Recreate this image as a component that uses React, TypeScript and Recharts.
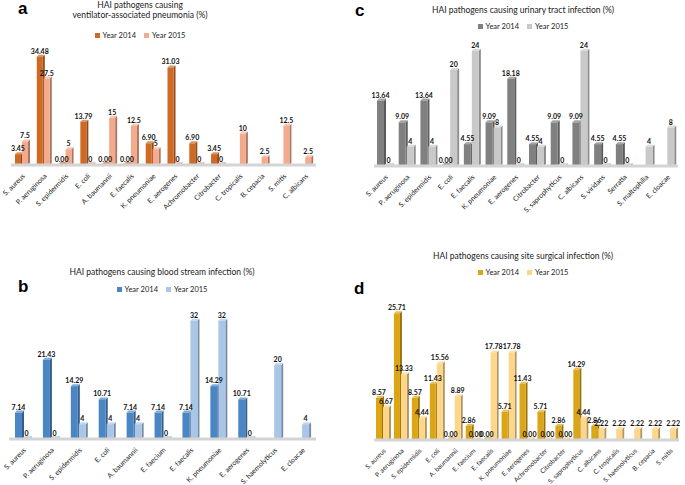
import { BarChart, Bar, XAxis, YAxis, LabelList } from 'recharts';

// a: ventilator-associated pneumonia
const vapNames = [
  'S. aureus', 'P. aeruginosa', 'S. epidermidis', 'E. coli', 'A. baumannii', 'E. faecalis',
  'K. pneumoniae', 'E. aerogenes', 'Achromobacter', 'Citrobacter', 'C. tropicalis',
  'B. cepacia', 'S. mitis', 'C. albicans',
];
const vap2014 = [3.45, 34.48, 0, 13.79, 0, 0, 6.9, 31.03, 6.9, 3.45, null, null, null, null];
const vap2015 = [7.5, 27.5, 5, 0, 15, 12.5, 5, 0, 0, 0, 10, 2.5, 12.5, 2.5];

// b: blood stream infection
const bsiNames = [
  'S. aureus', 'P. aeruginosa', 'S. epidermidis', 'E. coli', 'A. baumannii', 'E. faecium',
  'E. faecalis', 'K. pneumoniae', 'E. aerogenes', 'S. haemolyticus', 'E. cloacae',
];
const bsi2014 = [7.14, 21.43, 14.29, 10.71, 7.14, 7.14, 7.14, 14.29, 10.71, null, null];
const bsi2015 = [0, 0, 4, 4, 4, 0, 32, 32, 0, 20, 4];

// c: urinary tract infection
const utiNames = [
  'S. aureus', 'P. aeruginosa', 'S. epidermidis', 'E. coli', 'E. faecalis', 'K. pneumoniae',
  'E. aerogenes', 'Citrobacter', 'S. saprophyticus', 'C. albicans', 'S. viridans', 'Serratia',
  'S. maltophilia', 'E. cloacae',
];
const uti2014 = [13.64, 9.09, 13.64, 0, 4.55, 9.09, 18.18, 4.55, 9.09, 9.09, 4.55, 4.55, null, null];
const uti2015 = [0, 4, 4, 20, 24, 8, 0, 4, 0, 24, 0, 0, 4, 8];

// d: site surgical infection
const ssiNames = [
  'S. aureus', 'P. aeruginosa', 'S. epidermidis', 'E. coli', 'A. baumannii', 'E. faecium',
  'E. faecalis', 'K. pneumoniae', 'E. aerogenes', 'Achromobacter', 'Citrobacter',
  'S. saprophyticus', 'C. albicans', 'C. tropicalis', 'S. haemolyticus', 'B. cepacia', 'S. mitis',
];
const ssi2014 = [8.57, 25.71, 8.57, 11.43, 0, 2.86, 0, 5.71, 11.43, 5.71, 2.86, 14.29, 2.86, null, null, null, null];
const ssi2015 = [6.67, 13.33, 4.44, 15.56, 8.89, 0, 17.78, 17.78, 0, 0, 0, 4.44, 2.22, 2.22, 2.22, 2.22, 2.22];

const FONT = 'Lato, "Open Sans", sans-serif';

const toRows = (names: string[], a: (number | null)[], b: (number | null)[]) =>
  names.map((name, i) => ({ name, y2014: a[i], y2015: b[i] }));

const shade = (hex: string, amt: number) => {
  const n = parseInt(hex.slice(1), 16);
  const ch = [(n >> 16) & 255, (n >> 8) & 255, n & 255].map((c) =>
    Math.round(amt < 0 ? c * (1 + amt) : c + (255 - c) * amt)
  );
  return `rgb(${ch.join(',')})`;
};

const Bar3D = (props: any) => {
  const { x, y, width, height, fill, payload, dataKey } = props;
  if (x == null || !payload || payload[dataKey] == null) return null;
  const d = 2;
  const h = Math.max(height || 0, 1);
  const top = y + (height || 0) - h;
  return (
    <g>
      <polygon
        points={`${x + width},${top} ${x + width + d},${top - d} ${x + width + d},${top + h - d} ${x + width},${top + h}`}
        fill={shade(fill, -0.3)}
      />
      <polygon
        points={`${x},${top} ${x + d},${top - d} ${x + width + d},${top - d} ${x + width},${top}`}
        fill={shade(fill, 0.3)}
      />
      <rect x={x} y={top} width={width} height={h} fill={fill} />
    </g>
  );
};

interface PanelProps {
  left: number;
  top: number;
  height: number;
  letter: string;
  letterPos: [number, number];
  title: string[];
  titleTop: number;
  titleCenter: number;
  legendTop: number;
  names: string[];
  a: (number | null)[];
  b: (number | null)[];
  colors: [string, string];
  yMax: number;
  margin: { top: number; right: number; left: number; bottom: number };
  axisHeight: number;
  barSize: number;
  tickSize: number;
  fixed2015: boolean;
}

const Panel = (p: PanelProps) => {
  const data = toRows(p.names, p.a, p.b);
  const fmt14 = (v: any) => (v == null ? '' : Number(v).toFixed(2));
  const fmt15 = (v: any) => (v == null ? '' : p.fixed2015 ? Number(v).toFixed(2) : String(v));
  const labelStyle = { fontSize: 7, fontWeight: 700, fill: '#111', fontFamily: FONT };
  return (
    <div style={{ position: 'absolute', left: p.left, top: p.top, width: 340, height: p.height }}>
      <div
        style={{
          position: 'absolute', left: p.letterPos[0], top: p.letterPos[1],
          fontFamily: 'Arial, sans-serif', fontWeight: 700, fontSize: 17, lineHeight: '17px',
        }}
      >
        {p.letter}
      </div>
      <div
        style={{
          position: 'absolute', left: p.titleCenter - 120, width: 240, top: p.titleTop,
          textAlign: 'center', fontFamily: FONT, fontSize: 8.5, lineHeight: '10px', color: '#222',
        }}
      >
        {p.title.map((t) => (
          <div key={t}>{t}</div>
        ))}
      </div>
      <div
        style={{
          position: 'absolute', left: p.titleCenter - 60, width: 120, top: p.legendTop,
          display: 'flex', justifyContent: 'center', gap: 8, fontFamily: FONT, fontSize: 7.5,
          lineHeight: '9px', color: '#222',
        }}
      >
        {['Year 2014', 'Year 2015'].map((t, i) => (
          <span key={t} style={{ display: 'flex', alignItems: 'center', gap: 3 }}>
            <span style={{ width: 5, height: 5, background: p.colors[i], display: 'inline-block' }} />
            {t}
          </span>
        ))}
      </div>
      <BarChart
        width={340}
        height={p.height}
        data={data}
        margin={p.margin}
        barGap={1}
        barSize={p.barSize}
        style={{ position: 'absolute', left: 0, top: 0 }}
      >
        <YAxis hide domain={[0, p.yMax]} />
        <XAxis
          dataKey="name"
          interval={0}
          height={p.axisHeight}
          angle={-45}
          textAnchor="end"
          tickLine={false}
          axisLine={{ stroke: '#d4d4d4', strokeWidth: 3 }}
          tick={{ fontSize: p.tickSize, fill: '#222', fontFamily: FONT }}
        />
        <Bar dataKey="y2014" fill={p.colors[0]} shape={Bar3D} isAnimationActive={false}>
          <LabelList dataKey="y2014" position="top" offset={3} formatter={fmt14} style={labelStyle} />
        </Bar>
        <Bar dataKey="y2015" fill={p.colors[1]} shape={Bar3D} isAnimationActive={false}>
          <LabelList dataKey="y2015" position="top" offset={3} formatter={fmt15} style={labelStyle} />
        </Bar>
      </BarChart>
    </div>
  );
};

export default function App() {
  return (
    <div style={{ position: 'absolute', left: 0, top: 0, width: 685, height: 485, background: '#fff' }}>
      <Panel
        left={0} top={0} height={240} letter="a" letterPos={[18, 0]}
        title={['HAI pathogens causing', 'ventilator-associated pneumonia (%)']}
        titleTop={0} titleCenter={140} legendTop={31}
        names={vapNames} a={vap2014} b={vap2015} colors={['#CF6A24', '#F4AA8C']}
        yMax={35} margin={{ top: 55, right: 24, left: 11, bottom: 0 }} axisHeight={75}
        barSize={6} tickSize={7} fixed2015={false}
      />
      <Panel
        left={0} top={240} height={245} letter="b" letterPos={[18, 38]}
        title={['HAI pathogens causing blood stream infection (%)']}
        titleTop={27} titleCenter={162} legendTop={45}
        names={bsiNames} a={bsi2014} b={bsi2015} colors={['#4A86C4', '#A9C6E8']}
        yMax={33} margin={{ top: 77, right: 24, left: 9, bottom: 0 }} axisHeight={46}
        barSize={7} tickSize={7} fixed2015={false}
      />
      <Panel
        left={345} top={0} height={240} letter="c" letterPos={[10, 2]}
        title={['HAI pathogens causing urinary tract infection (%)']}
        titleTop={5} titleCenter={178} legendTop={22}
        names={utiNames} a={uti2014} b={uti2015} colors={['#808080', '#C9C9C9']}
        yMax={25} margin={{ top: 46, right: 7, left: 29, bottom: 0 }} axisHeight={74}
        barSize={7} tickSize={7} fixed2015={false}
      />
      <Panel
        left={345} top={240} height={245} letter="d" letterPos={[9, 40]}
        title={['HAI pathogens causing site surgical infection (%)']}
        titleTop={11} titleCenter={178} legendTop={28}
        names={ssiNames} a={ssi2014} b={ssi2015} colors={['#DBA514', '#FDD68A']}
        yMax={27} margin={{ top: 67, right: 6, left: 29, bottom: 0 }} axisHeight={45}
        barSize={6} tickSize={6.5} fixed2015={true}
      />
    </div>
  );
}
